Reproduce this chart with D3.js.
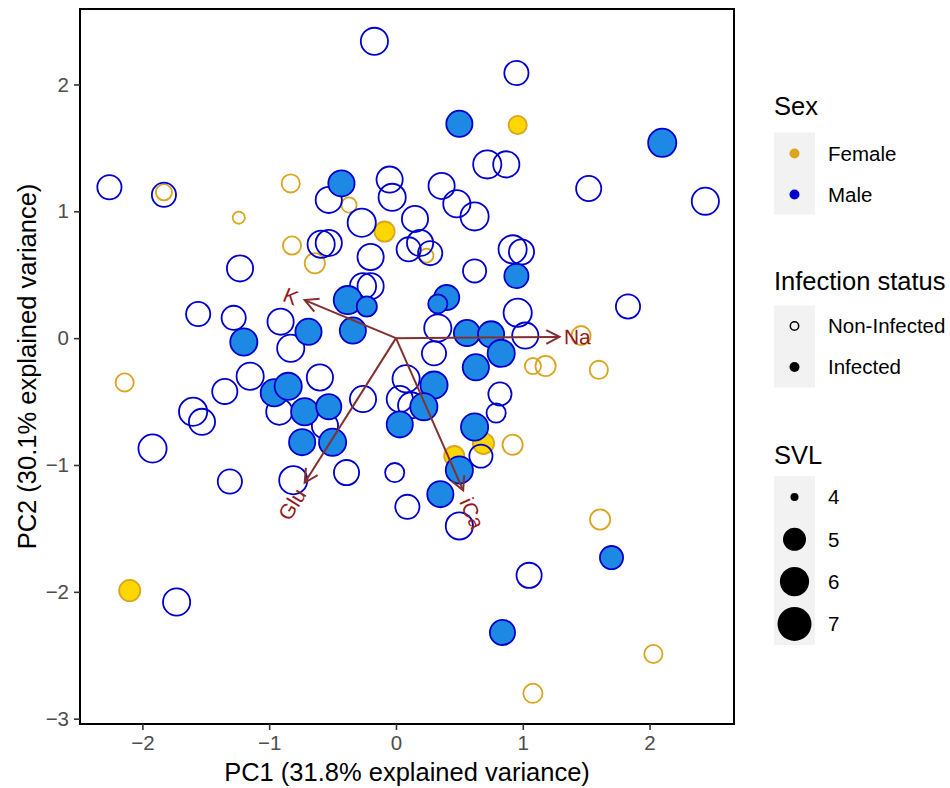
<!DOCTYPE html>
<html>
<head>
<meta charset="UTF-8">
<title>PCA biplot</title>
<script src="https://cdn.jsdelivr.net/npm/d3@7"></script>
<style>
  body { margin: 0; background: #fff; }
  svg text { font-family: "Liberation Sans", Arial, Helvetica, sans-serif; }
</style>
</head>
<body>
<div id="chart"></div>
<script>
// ---- data ----
// order: female non-infected, female infected, male non-infected, male infected
var pc1 = [
  -1.83, -0.83, -0.37, -1.24, -0.82, -0.64, 0.24, 1.46, 1.08, 1.18, 1.60, -2.14, 0.92, 1.61, 2.03, 1.08,
  0.96, -0.09, 0.69, 0.46, -2.10,
  -0.17, -2.26, -1.83, -0.53, -0.05, -0.03, -0.27, -0.59, -0.53, 0.95, 0.72, 0.87, 1.52, 2.44, 0.36,
  0.48, 0.62, 0.15, 0.10, 0.19, 0.27, 0.92, 0.99, 0.62, -0.20, -1.23, -0.26, -0.20, -1.56, -1.28,
  -0.91, 0.96, 0.33, 1.02, -0.83, 0.30, -1.15, -1.35, -0.60, -1.60, -1.53, -0.92, -0.56, -0.26, 0.08,
  0.03, 0.12, 0.82, 0.79, -1.92, -1.31, -0.81, -0.39, -0.01, 0.09, 0.67, 0.50, 1.05, -1.73, 1.83,
  -0.43, 0.50, 2.10, 0.95, 0.40, 0.33, -0.38, -0.23, -1.20, -0.69, -0.34, 0.56, 0.75, 0.83, 0.63,
  0.30, -0.96, -0.85, -0.72, -0.53, -0.74, -0.50, 0.22, 0.03, 0.62, 0.50, 0.35, 1.70, 0.84
];
var pc2 = [
  1.15, 1.22, 1.05, 0.95, 0.73, 0.59, 0.65, 0.02, -0.22, -0.22, -0.25, -0.35, -0.84, -1.43, -2.49, -2.80,
  1.68, 0.84, -0.83, -0.93, -1.99,
  2.34, 1.19, 1.13, 1.09, 1.25, 1.11, 0.91, 0.74, 0.75, 2.09, 1.37, 1.37, 1.18, 1.08, 1.20,
  1.06, 0.96, 0.94, 0.70, 0.75, 0.67, 0.70, 0.68, 0.53, 0.64, 0.55, 0.41, 0.41, 0.19, 0.16,
  0.13, 0.20, 0.08, 0.02, -0.08, -0.12, -0.30, -0.42, -0.31, -0.58, -0.66, -0.58, -0.69, -0.48, -0.32,
  -0.48, -0.53, -0.44, -0.59, -0.87, -1.13, -1.12, -1.06, -1.06, -1.33, -0.93, -1.48, -1.87, -2.08, 0.25,
  1.22, 1.69, 1.54, 0.49, 0.32, 0.27, 0.30, 0.25, -0.03, 0.05, 0.06, 0.04, 0.03, -0.12, -0.23,
  -0.37, -0.43, -0.38, -0.58, -0.54, -0.82, -0.82, -0.54, -0.68, -0.70, -1.04, -1.23, -1.73, -2.32
];
var svl = [
  4.44, 4.64, 4.36, 4.16, 4.64, 4.87, 4.28, 4.75, 4.44, 4.87, 4.64, 4.64, 4.87, 4.87, 4.64, 4.75,
  4.64, 4.87, 5.00, 4.87, 5.00,
  5.96, 5.44, 5.44, 5.78, 5.78, 5.96, 6.15, 5.96, 5.78, 5.44, 6.15, 5.78, 5.60, 5.96, 5.78,
  5.96, 6.15, 5.78, 5.44, 5.78, 5.44, 6.15, 5.60, 5.28, 5.78, 5.78, 5.78, 5.78, 5.44, 5.44,
  5.78, 6.15, 5.96, 5.78, 5.96, 5.44, 5.96, 5.60, 5.78, 6.15, 5.78, 5.78, 5.78, 5.78, 5.96,
  5.78, 5.78, 5.28, 4.75, 6.15, 5.44, 6.15, 5.60, 4.75, 5.44, 5.28, 5.96, 5.60, 5.96, 5.44,
  5.78, 5.78, 6.15, 5.44, 5.60, 4.75, 6.15, 4.87, 5.96, 5.78, 5.78, 5.78, 5.78, 5.96, 5.78,
  5.96, 5.96, 5.96, 5.96, 5.60, 5.78, 5.96, 5.96, 5.78, 5.96, 5.96, 5.78, 5.28, 5.60
];
var sex = [
  "F","F","F","F","F","F","F","F","F","F","F","F","F","F","F","F",
  "F","F","F","F","F",
  "M","M","M","M","M","M","M","M","M","M","M","M","M","M","M",
  "M","M","M","M","M","M","M","M","M","M","M","M","M","M","M",
  "M","M","M","M","M","M","M","M","M","M","M","M","M","M","M",
  "M","M","M","M","M","M","M","M","M","M","M","M","M","M","M",
  "M","M","M","M","M","M","M","M","M","M","M","M","M","M","M",
  "M","M","M","M","M","M","M","M","M","M","M","M","M","M"
];
var infected = [
  0,0,0,0,0,0,0,0,0,0,0,0,0,0,0,0,
  1,1,1,1,1,
  0,0,0,0,0,0,0,0,0,0,0,0,0,0,0,
  0,0,0,0,0,0,0,0,0,0,0,0,0,0,0,
  0,0,0,0,0,0,0,0,0,0,0,0,0,0,0,
  0,0,0,0,0,0,0,0,0,0,0,0,0,0,0,
  1,1,1,1,1,1,1,1,1,1,1,1,1,1,1,
  1,1,1,1,1,1,1,1,1,1,1,1,1,1
];

// loadings
var loadNames = ["Na", "K", "Glu", "iCa"];
var loadPC1 = [1.29, -0.72, -0.72, 0.53];
var loadPC2 = [0.01, 0.30, -1.14, -1.20];
var labelPC1 = [1.43, -0.83, -0.82, 0.60];
var labelPC2 = [0.01, 0.33, -1.31, -1.38];

var xTicks = [-2, -1, 0, 1, 2];
var yTicks = [-3, -2, -1, 0, 1, 2];
var sexLevels = ["Female", "Male"];
var statusLevels = ["Non-Infected", "Infected"];
var svlBreaks = [4, 5, 6, 7];

// ---- setup ----
var width = 950, height = 788;
var panel = {left: 80, right: 734, top: 9, bottom: 724};

var svg = d3.select("#chart").append("svg")
  .attr("width", width)
  .attr("height", height);

var x = d3.scaleLinear().domain([-2.492, 2.666]).range([panel.left, panel.right]);
var y = d3.scaleLinear().domain([-3.042, 2.595]).range([panel.bottom, panel.top]);
var sizeScale = d3.scaleSqrt().domain([0, 1]).range([0, 7.5]);
function radius(v) { return 4 + sizeScale(Math.max(0, v - 4)); }

var fillColor = {F: "#FFD700", M: "#1E88E5"};
var lineColor = {F: "#DAA520", M: "#0000CD"};

var points = pc1.map(function(d, i) {
  return {x: d, y: pc2[i], svl: svl[i], sex: sex[i], inf: infected[i]};
});

// points
svg.append("g").selectAll("circle")
  .data(points)
  .enter().append("circle")
  .attr("cx", function(d) { return x(d.x); })
  .attr("cy", function(d) { return y(d.y); })
  .attr("r", function(d) { return radius(d.svl) - 0.9; })
  .attr("fill", function(d) { return d.inf ? fillColor[d.sex] : "none"; })
  .attr("stroke", function(d) { return lineColor[d.sex]; })
  .attr("stroke-width", 1.8);

// loading arrows
var arrowCol = "#822f2f";
var ag = svg.append("g");
loadNames.forEach(function(name, i) {
  var x0 = x(0), y0 = y(0), x1 = x(loadPC1[i]), y1 = y(loadPC2[i]);
  var ang = Math.atan2(y1 - y0, x1 - x0);
  var len = 15, spread = Math.PI / 6.5;
  ag.append("line")
    .attr("x1", x0).attr("y1", y0).attr("x2", x1).attr("y2", y1)
    .attr("stroke", arrowCol).attr("stroke-width", 2);
  ag.append("path")
    .attr("d", "M" + (x1 - len * Math.cos(ang - spread)) + "," + (y1 - len * Math.sin(ang - spread)) +
      "L" + x1 + "," + y1 +
      "L" + (x1 - len * Math.cos(ang + spread)) + "," + (y1 - len * Math.sin(ang + spread)))
    .attr("fill", "none").attr("stroke", arrowCol).attr("stroke-width", 2);
  var deg = ang * 180 / Math.PI;
  if (deg > 90) deg -= 180;
  if (deg < -90) deg += 180;
  var lx = x(labelPC1[i]), ly = y(labelPC2[i]);
  ag.append("text")
    .attr("transform", "translate(" + lx + "," + ly + ") rotate(" + deg + ")")
    .attr("text-anchor", "middle")
    .attr("dy", "0.35em")
    .attr("font-size", 21)
    .attr("fill", "#951b1b")
    .text(name);
});

// panel border
svg.append("rect")
  .attr("x", panel.left).attr("y", panel.top)
  .attr("width", panel.right - panel.left)
  .attr("height", panel.bottom - panel.top)
  .attr("fill", "none").attr("stroke", "#000").attr("stroke-width", 2);

// axes
var fmt = d3.format("d");
var xAxis = svg.append("g")
  .attr("transform", "translate(0," + panel.bottom + ")")
  .call(d3.axisBottom(x).tickValues(xTicks).tickFormat(fmt).tickSize(6).tickPadding(5));
var yAxis = svg.append("g")
  .attr("transform", "translate(" + panel.left + ",0)")
  .call(d3.axisLeft(y).tickValues(yTicks).tickFormat(fmt).tickSize(6).tickPadding(5));
[xAxis, yAxis].forEach(function(a) {
  a.select(".domain").remove();
  a.selectAll(".tick line").attr("stroke", "#333").attr("stroke-width", 1.6);
  a.selectAll(".tick text").attr("fill", "#4d4d4d").attr("font-size", 20.5)
    .style("font-family", "'Liberation Sans', Arial, sans-serif");
});

svg.append("text")
  .attr("x", (panel.left + panel.right) / 2).attr("y", 781)
  .attr("text-anchor", "middle").attr("font-size", 25.5)
  .text("PC1 (31.8% explained variance)");
svg.append("text")
  .attr("transform", "translate(36," + (panel.top + panel.bottom) / 2 + ") rotate(-90)")
  .attr("text-anchor", "middle").attr("font-size", 25.5)
  .text("PC2 (30.1% explained variance)");

// ---- legends ----
var lg = svg.append("g");
var keyX = 774, keyW = 41, labX = 828;

function legendTitle(txt, yb) {
  lg.append("text").attr("x", keyX).attr("y", yb).attr("font-size", 25.5).text(txt);
}
function legendLabel(txt, cy) {
  lg.append("text").attr("x", labX).attr("y", cy + 7.3).attr("font-size", 20.5).text(txt);
}

// Sex
legendTitle("Sex", 115);
lg.append("rect").attr("x", keyX).attr("y", 132.5).attr("width", keyW).attr("height", 82).attr("fill", "#f2f2f2");
sexLevels.forEach(function(s, i) {
  var cy = 153.5 + i * 41;
  lg.append("circle").attr("cx", keyX + keyW / 2).attr("cy", cy).attr("r", 5)
    .attr("fill", lineColor[s[0]]);
  legendLabel(s, cy);
});

// Infection status
legendTitle("Infection status", 290);
lg.append("rect").attr("x", keyX).attr("y", 305.5).attr("width", keyW).attr("height", 82).attr("fill", "#f2f2f2");
statusLevels.forEach(function(s, i) {
  var cy = 326 + i * 41;
  lg.append("circle").attr("cx", keyX + keyW / 2).attr("cy", cy)
    .attr("r", i === 0 ? 4.2 : 5)
    .attr("fill", i === 0 ? "none" : "#000")
    .attr("stroke", i === 0 ? "#000" : "none")
    .attr("stroke-width", 1.5);
  legendLabel(s, cy);
});

// SVL
legendTitle("SVL", 464);
lg.append("rect").attr("x", keyX).attr("y", 476).attr("width", keyW).attr("height", 169).attr("fill", "#f2f2f2");
svlBreaks.forEach(function(v, i) {
  var cy = 497 + i * 42.3;
  lg.append("circle").attr("cx", keyX + keyW / 2).attr("cy", cy).attr("r", radius(v)).attr("fill", "#000");
  legendLabel(String(v), cy);
});
</script>
</body>
</html>
